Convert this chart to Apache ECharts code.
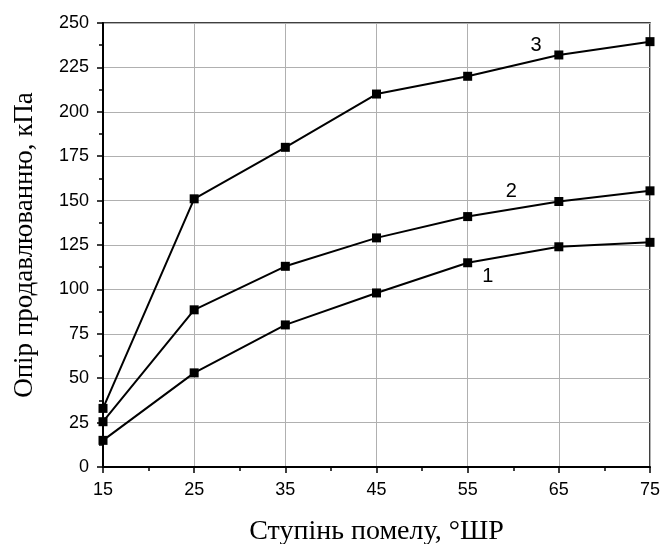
<!DOCTYPE html>
<html>
<head>
<meta charset="utf-8">
<script src="https://cdn.jsdelivr.net/npm/echarts@6/dist/echarts.min.js"></script>
<style>
  html, body { margin: 0; padding: 0; background: #fff; }
  #chart { width: 661px; height: 544px; }
</style>
</head>
<body>
<div id="chart"></div>
<script>
  // degree of grinding, °ШР
  const grind = [15, 25, 35, 45, 55, 65, 75];
  // bursting resistance, kPa
  const curve1 = [15, 53, 80, 98, 115, 124, 126.5];
  const curve2 = [25.5, 88.5, 113, 129, 141, 149.5, 155.5];
  const curve3 = [33, 151, 180, 210, 220, 232, 239.5];
  const curveNames = ['1', '2', '3'];
  // where the curve numbers sit, in data units
  const curveLabelAt = [[57.2, 107], [59.8, 155], [62.5, 237.5]];

  const chart = echarts.init(document.getElementById('chart'));

  const makeSeries = (vals, i) => ({
    name: curveNames[i],
    type: 'line',
    data: grind.map((x, k) => [x, vals[k]]),
    symbol: 'rect',
    symbolSize: 9,
    lineStyle: { color: '#000', width: 2 },
    itemStyle: { color: '#000' },
    markPoint: {
      symbol: 'rect',
      symbolSize: 0,
      data: [{ coord: curveLabelAt[i] }],
      label: {
        show: true,
        formatter: curveNames[i],
        color: '#000',
        fontSize: 20,
        fontFamily: 'Liberation Sans, Arial, sans-serif',
        position: 'inside'
      }
    }
  });

  const tickLabel = {
    color: '#000',
    fontSize: 18,
    fontFamily: 'Liberation Sans, Arial, sans-serif'
  };

  chart.setOption({
    animation: false,
    grid: {
      left: 103,
      right: 11,
      top: 23,
      bottom: 77,
      outerBoundsMode: 'none',
      containLabel: false,
      show: true,
      borderColor: '#000',
      borderWidth: 1.5
    },
    xAxis: {
      type: 'value',
      min: 15,
      max: 75,
      interval: 10,
      name: 'Ступінь помелу, °ШР',
      nameLocation: 'middle',
      nameGap: 51,
      nameTextStyle: { color: '#000', fontSize: 28, fontFamily: 'Liberation Serif, Times New Roman, serif' },
      axisLine: { lineStyle: { color: '#000', width: 2 } },
      axisTick: { length: 6, lineStyle: { color: '#000', width: 1.5 } },
      minorTick: { show: true, splitNumber: 2, length: 4, lineStyle: { color: '#000', width: 1.5 } },
      axisLabel: Object.assign({ margin: 14 }, tickLabel),
      splitLine: { show: true, lineStyle: { color: '#b0b0b0', width: 1 } }
    },
    yAxis: {
      type: 'value',
      min: 0,
      max: 250,
      interval: 25,
      name: 'Опір продавлюванню, кПа',
      nameLocation: 'middle',
      nameGap: 65,
      nameTextStyle: { color: '#000', fontSize: 27, fontFamily: 'Liberation Serif, Times New Roman, serif' },
      axisLine: { show: true, lineStyle: { color: '#000', width: 2 } },
      axisTick: { show: true, length: 6, lineStyle: { color: '#000', width: 1.5 } },
      minorTick: { show: true, splitNumber: 2, length: 4, lineStyle: { color: '#000', width: 1.5 } },
      axisLabel: Object.assign({ margin: 14 }, tickLabel),
      splitLine: { show: true, lineStyle: { color: '#b0b0b0', width: 1 } }
    },
    series: [curve1, curve2, curve3].map(makeSeries)
  });
</script>
</body>
</html>
